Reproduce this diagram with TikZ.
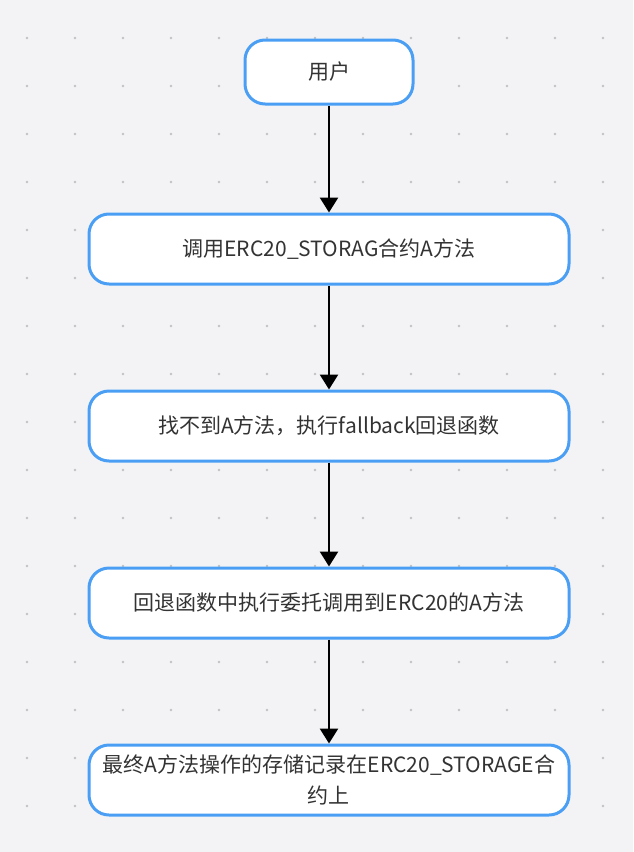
\documentclass[tikz,border=0pt]{standalone}
\usepackage{fontspec}
\setmainfont{Noto Sans CJK SC}
\usepackage{tikz}
\usetikzlibrary{arrows.meta}

\definecolor{bordblue}{HTML}{4A9FF5}
\definecolor{bggray}{HTML}{F3F3F5}
\definecolor{dotgray}{HTML}{C2C2C6}
\definecolor{txtgray}{HTML}{333333}

\begin{document}
\begin{tikzpicture}[x=1pt,y=-1pt,>={Triangle[width=18pt,length=15pt]},line width=2.6pt,
  node distance=177pt,
  box/.style={draw=bordblue,line width=3pt,rounded corners=20pt,fill=white,text=txtgray,
    minimum width=480pt,minimum height=70pt,align=center,
    font=\fontsize{21}{31}\selectfont}]

\fill[bggray] (0,0) rectangle (633,852);
\useasboundingbox (0,0) rectangle (633,852);
\foreach \i in {0,...,12}
  \foreach \j in {0,...,16}
    \fill[dotgray] (27+48*\i,38+48*\j) circle (1.3pt);

\node[box,minimum width=168pt,minimum height=64pt] (b_1) at (329,72) {用户};
\node[box] (b_2) [below of=b_1] {调用ERC20\_STORAG合约A方法};
\node[box] (b_3) [below of=b_2] {找不到A方法，执行fallback回退函数};
\node[box] (b_4) [below of=b_3] {回退函数中执行委托调用到ERC20的A方法};
\node[box] (b_5) [below of=b_4] {最终A方法操作的存储记录在ERC20\_STORAGE合\\约上};

\path[->,draw] (b_1) edge (b_2)
  (b_2) edge (b_3)
  (b_3) edge (b_4)
  (b_4) edge (b_5);

\end{tikzpicture}
\end{document}
